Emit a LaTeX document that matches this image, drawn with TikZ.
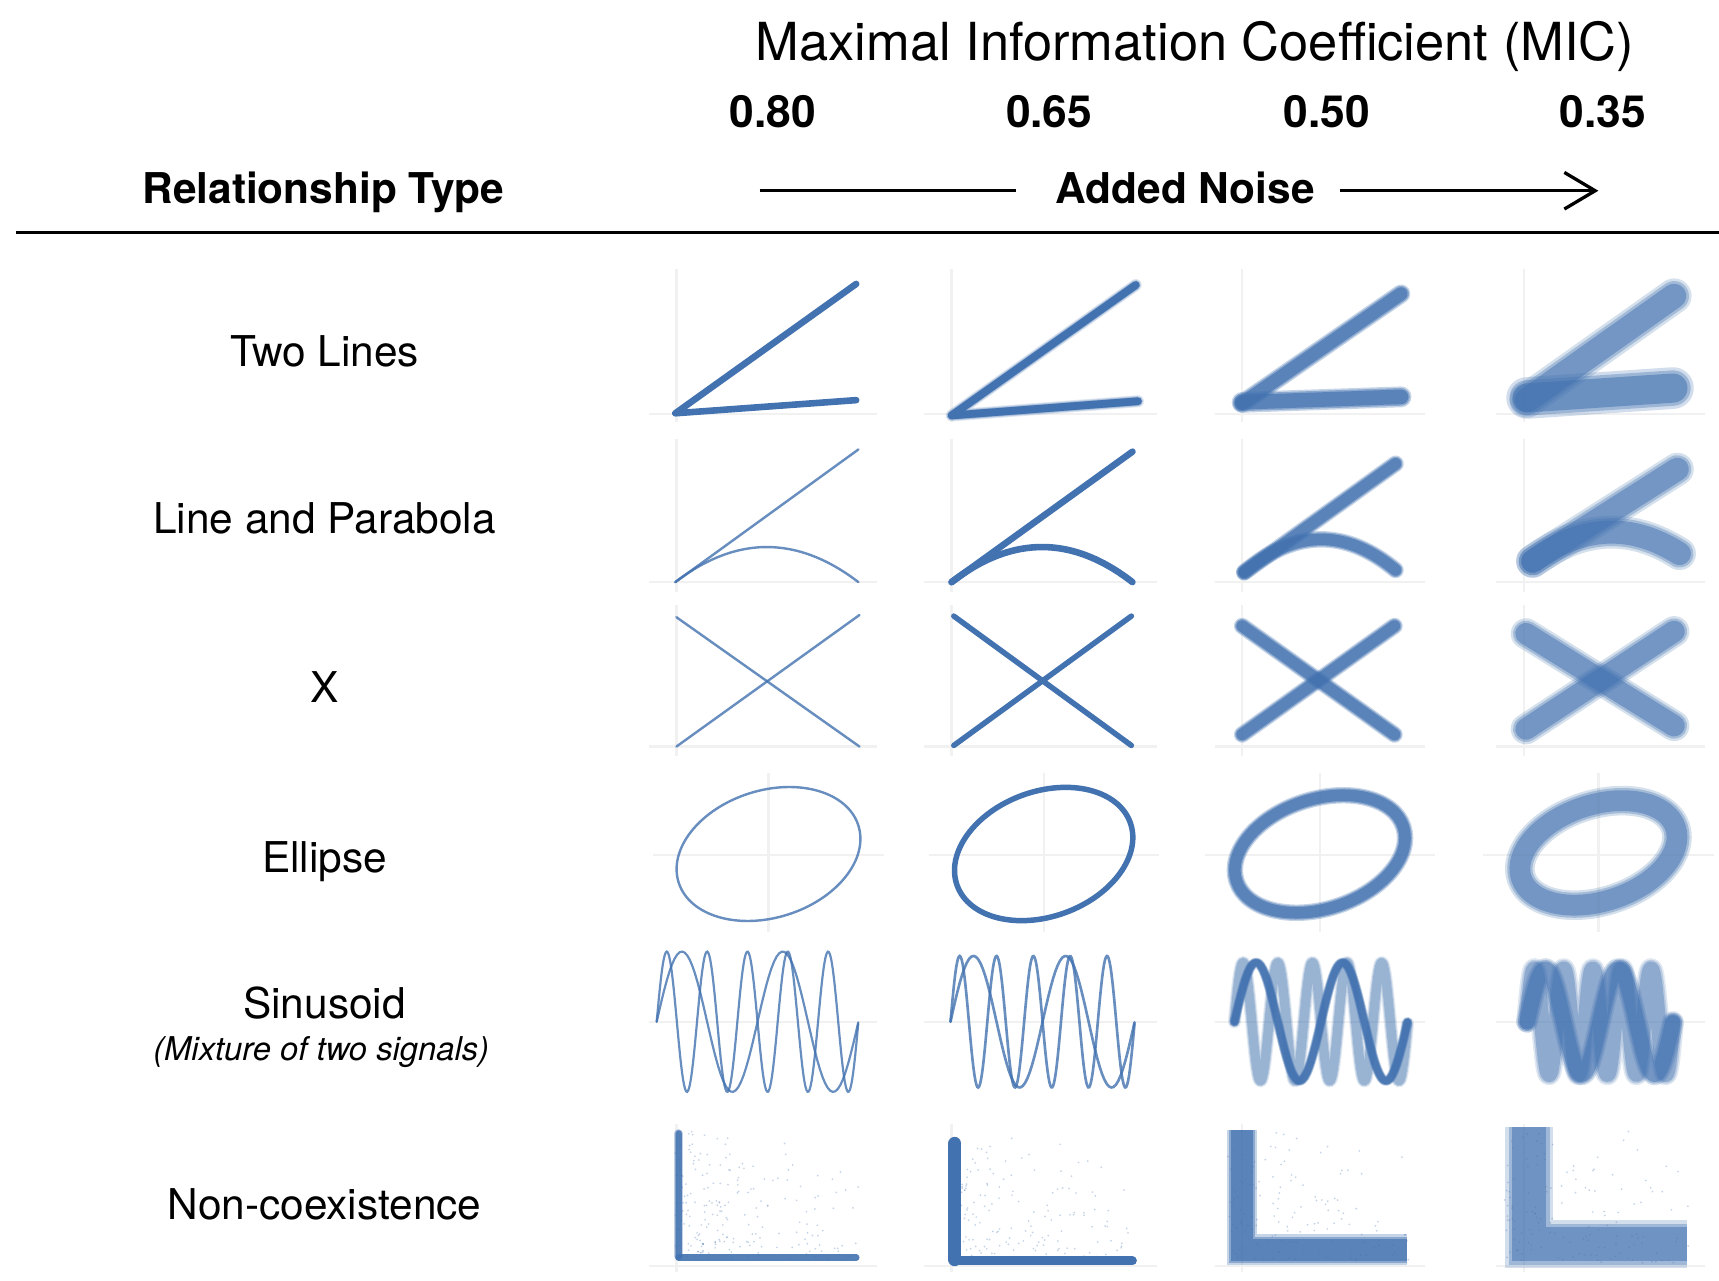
\documentclass[tikz,border=0pt]{standalone}
\usepackage{fontspec}
\setmainfont{TeX Gyre Heros}
\usetikzlibrary{arrows.meta}
\definecolor{plotblue}{RGB}{66,114,176}
\definecolor{gridgray}{RGB}{241,241,241}
\newcommand\pxu{0.2845pt}
% fuzzy band: #1 width, #2 strength, #3 path
\newcommand\fz[3]{%
  \pgfmathsetmacro\fzA{min(0.2*#2,1)}\pgfmathsetmacro\fzB{min(0.3*#2,1)}%
  \pgfmathsetmacro\fzC{min(0.45*#2,1)}%
  \draw[plotblue,line cap=round,line join=round,line width=#1*\pxu,opacity=\fzA] #3;
  \draw[plotblue,line cap=round,line join=round,line width=0.85*#1*\pxu,opacity=\fzB] #3;
  \draw[plotblue,line cap=round,line join=round,line width=0.7*#1*\pxu,opacity=\fzC] #3;
}
% fuzzy band with blunt ends and mitred corners
\newcommand\fzb[3]{%
  \pgfmathsetmacro\fzA{min(0.2*#2,1)}\pgfmathsetmacro\fzB{min(0.3*#2,1)}%
  \pgfmathsetmacro\fzC{min(0.45*#2,1)}%
  \draw[plotblue,line cap=butt,line join=miter,line width=#1*\pxu,opacity=\fzA] #3;
  \draw[plotblue,line cap=butt,line join=miter,line width=0.85*#1*\pxu,opacity=\fzB] #3;
  \draw[plotblue,line cap=butt,line join=miter,line width=0.7*#1*\pxu,opacity=\fzC] #3;
}
% sparse scatter: x0, ybottom, W, H, n
\newcommand\scat[5]{%
  \foreach \i in {1,...,#5}{%
    \pgfmathsetmacro\rx{#1+#3*rnd*rnd}\pgfmathsetmacro\ry{#2-#4*rnd}%
    \fill[plotblue,opacity=0.3] (\rx,\ry) circle[radius=0.9];
    \pgfmathsetmacro\rx{#1+#3*rnd}\pgfmathsetmacro\ry{#2-#4*rnd*rnd}%
    \fill[plotblue,opacity=0.3] (\rx,\ry) circle[radius=0.9];
  }%
}
\begin{document}
\begin{tikzpicture}[x=0.01cm,y=-0.01cm,
  hdr/.style={font=\fontsize{11}{13}\selectfont\bfseries,anchor=base},
  num/.style={font=\fontsize{11.5}{13}\selectfont\bfseries,anchor=base},
  lbl/.style={font=\fontsize{11}{13}\selectfont,anchor=base},
  rulel/.style={line width=3*\pxu,black},
  thin/.style={plotblue,line width=2.2*\pxu,opacity=0.8,line cap=round},
  mid/.style={plotblue,line width=#1*\pxu,line cap=round,line join=round},
  grid/.style={gridgray,line width=2*\pxu}]
\fill[white] (0,0) rectangle (1568,1168);
\useasboundingbox (0,0) rectangle (1568,1168);
\pgfmathsetseed{7}
% ---------- header ----------
\node[font=\fontsize{13.6}{16}\selectfont,anchor=base] (title) at (1090,55) {Maximal Information Coefficient (MIC)};
\node[num] (n80) at (705,116) {0.80};
\node[num] (n65) at (957,116) {0.65};
\node[num] (n50) at (1210,116) {0.50};
\node[num] (n35) at (1462,116) {0.35};
\node[hdr] (reltype) at (295,186) {Relationship Type};
\node[hdr] (noise) at (1081,186) {Added Noise};
\coordinate (aL0) at (693,174);
\coordinate (aL1) at (927,174);
\coordinate (aR0) at (1222,174);
\coordinate (aR1) at (1458,174);
\draw[rulel] (aL0) -- (aL1);
\draw[rulel,-{Straight Barb[length=8pt,width=9.5pt,line width=3*\pxu]}] (aR0) -- (aR1);
\coordinate (r0) at (15,212);
\coordinate (r1) at (1568,212);
\draw[rulel] (r0) -- (r1);
% ---------- row labels ----------
\node[lbl] (l1) at (296,334) {Two Lines};
\node[lbl] (l2) at (296,487) {Line and Parabola};
\node[lbl] (l3) at (296,641) {X};
\node[lbl] (l4) at (296,796) {Ellipse};
\node[lbl] (l5) at (296,929) {Sinusoid};
\node[font=\fontsize{8.5}{10}\selectfont\itshape,anchor=base] (l5b) at (293,967) {(Mixture of two signals)};
\node[lbl] (l6) at (296,1112) {Non-coexistence};
% ---------- faint grid lines ----------
\foreach \xl/\xr in {617/785,868/1040,1133/1285,1390/1540}{
  \draw[grid] (\xl,245) -- (\xl,385);
  \draw[grid] (\xl-25,378) -- (\xr+15,378);
  \draw[grid] (\xl,400) -- (\xl,540);
  \draw[grid] (\xl-25,531) -- (\xr+15,531);
  \draw[grid] (\xl,552) -- (\xl,690);
  \draw[grid] (\xl-25,681) -- (\xr+15,681);
  \draw[grid] (\xl-25,932) -- (\xr+15,932);
  \draw[grid] (\xl,1025) -- (\xl,1160);
  \draw[grid] (\xl-25,1155) -- (\xr+15,1155);
}
\foreach \xc in {701,952,1204,1458}{
  \draw[grid] (\xc,705) -- (\xc,850);
  \draw[grid] (\xc-105,780) -- (\xc+105,780);
}
% ---------- row 1: two lines ----------
\draw[mid=6] (781,259) -- (616,377) -- (781,365);
\fz{11}{0.8}{(1036,260) -- (868,379) -- (1038,366)}
\draw[mid=7] (1036,260) -- (868,379) -- (1038,366);
\fz{17}{1.5}{(1278,268) -- (1133,368)}
\fz{19}{1.5}{(1133,367) -- (1278,362)}
\fz{32}{1.1}{(1527,270) -- (1393,365)}
\fz{38}{1.2}{(1393,363) -- (1526,354)}
% ---------- row 2: line and parabola ----------
\draw[thin] (783,410) -- (616,531);
\draw[thin] plot[domain=0:1,samples=40] ({616+167*\x},{531-128*\x*(1-\x)});
\draw[mid=6] (1033,412) -- (868,531);
\draw[mid=6] plot[domain=0:1,samples=40] ({868+165*\x},{531-128*\x*(1-\x)});
\fz{15}{1.5}{(1273,423) -- (1135,522)}
\fz{15}{1.5}{plot[domain=0:1,samples=40] ({1135+138*\x},{522-2*\x-116*\x*(1-\x)})}
\fz{30}{1.1}{(1530,428) -- (1398,512)}
\fz{30}{1.1}{plot[domain=0:1,samples=40] ({1398+134*\x},{512-7*\x-92*\x*(1-\x)})}
% ---------- row 3: X ----------
\draw[thin] (617,563) -- (784,681);
\draw[thin] (617,681) -- (784,561);
\draw[mid=5] (870,562) -- (1032,680);
\draw[mid=5] (870,680) -- (1032,562);
\fz{15}{1.5}{(1133,571) -- (1272,670)}
\fz{15}{1.5}{(1133,670) -- (1272,571)}
\fz{28}{1.1}{(1392,578) -- (1527,662)}
\fz{28}{1.1}{(1392,665) -- (1527,576)}
% ---------- row 4: ellipse ----------
\draw[thin,rotate around={17.6:(701,779)}] (701,779) ellipse[x radius=86,y radius=58];
\draw[mid=5,rotate around={20:(952,779)}] (952,779) ellipse[x radius=84,y radius=57];
\fz{15}{1.5}{[rotate around={18:(1204,779)}] (1204,779) ellipse[x radius=80,y radius=50]}
\fz{27}{1.1}{[rotate around={18:(1458,778)}] (1458,778) ellipse[x radius=74,y radius=44]}
% ---------- row 5: sinusoid ----------
\draw[thin,line width=2*\pxu] plot[domain=0:1,samples=80] ({599+184*\x},{932-64*sin(720*\x)});
\draw[thin,line width=2*\pxu] plot[domain=0:1,samples=200] ({599+184*\x},{932-64*sin(1800*\x)});
\draw[thin,line width=2.4*\pxu] plot[domain=0:1,samples=80] ({867+168*\x},{932-60*sin(720*\x)});
\draw[thin,line width=2.4*\pxu] plot[domain=0:1,samples=200] ({867+168*\x},{932-60*sin(1800*\x)});
\fz{12}{0.7}{plot[domain=0:1,samples=200] ({1126+158*\x},{932-54*sin(1800*\x)})}
\fz{9}{1.8}{plot[domain=0:1,samples=80] ({1126+158*\x},{932-54*sin(720*\x)})}
\fz{20}{0.8}{plot[domain=0:1,samples=200] ({1393+133*\x},{932-48*sin(1800*\x)})}
\fz{20}{1.1}{plot[domain=0:1,samples=80] ({1393+133*\x},{932-48*sin(720*\x)})}
% ---------- row 6: non-coexistence ----------
\scat{616}{1149}{167}{118}{110}
\scat{866}{1152}{170}{114}{90}
\scat{1120}{1150}{165}{118}{70}
\scat{1372}{1152}{168}{124}{70}
\fz{8}{1.6}{(619,1034) -- (619,1146)}
\draw[mid=6,opacity=0.9] (619,1147) -- (781,1147);
\draw[mid=12] (871,1043) -- (871,1149);
\draw[mid=8] (871,1150) -- (1033,1150);
\fzb{28}{1.5}{(1133,1031) -- (1133,1140) -- (1283,1140)}
\fzb{44}{1.15}{(1395,1028) -- (1395,1135) -- (1539,1135)}
\end{tikzpicture}
\end{document}
